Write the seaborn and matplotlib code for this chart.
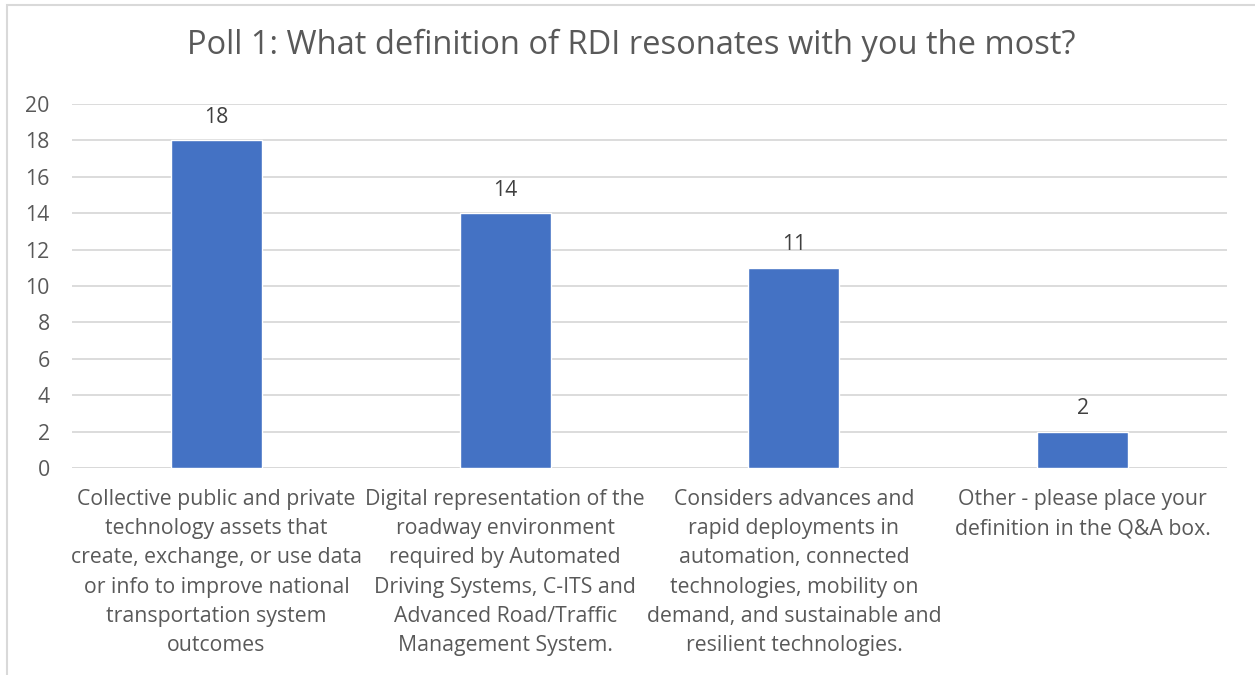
import matplotlib
matplotlib.use("Agg")
import matplotlib.pyplot as plt
import seaborn as sns
import pandas as pd
from matplotlib.patches import Rectangle

categories = [
    "Collective public and private\ntechnology assets that\ncreate, exchange, or use data\nor info to improve national\ntransportation system\noutcomes",
    "Digital representation of the\nroadway environment\nrequired by Automated\nDriving Systems, C-ITS and\nAdvanced Road/Traffic\nManagement System.",
    "Considers advances and\nrapid deployments in\nautomation, connected\ntechnologies, mobility on\ndemand, and sustainable and\nresilient technologies.",
    "Other - please place your\ndefinition in the Q&A box.",
]
votes = [18, 14, 11, 2]
yticks = [0, 2, 4, 6, 8, 10, 12, 14, 16, 18, 20]
title = "Poll 1: What definition of RDI resonates with you the most?"

sns.set_theme(style="white")
plt.rcParams['font.family'] = ['Open Sans', 'DejaVu Sans']

TXT = "#595959"
FS = 15.3
df = pd.DataFrame({"cat": categories, "votes": votes})

fig = plt.figure(figsize=(12.55, 6.75), dpi=100)
ax = fig.add_axes([72/1255, 1-468/675, (1227-72)/1255, (468-104)/675])

sns.barplot(data=df, x="cat", y="votes", color="#4472C4", width=0.315,
            saturation=1, ax=ax, zorder=3)
ax.set_ylim(0, 20)
ax.set_xlim(-0.5, 3.5)
ax.set_yticks(yticks)
ax.yaxis.grid(True, color="#D9D9D9", linewidth=1.3, zorder=0)
ax.set_axisbelow(True)
for s in ax.spines.values():
    s.set_visible(False)
ax.axhline(0, color="#D9D9D9", linewidth=1.3, zorder=1)
ax.set_xlabel("")
ax.set_ylabel("")
ax.tick_params(axis="y", length=0, pad=16, labelsize=FS, labelcolor=TXT)
ax.tick_params(axis="x", length=0, pad=15, labelsize=FS, labelcolor=TXT)
for lbl in ax.get_xticklabels():
    lbl.set_linespacing(1.52)
for c in ax.containers:
    ax.bar_label(c, labels=[str(v) for v in votes], padding=9,
                 fontsize=FS, color="#404040")

fig.text(631/1255, 1-45/675, title, ha="center", va="center",
         fontsize=23.5, color=TXT)

fig.patches.append(Rectangle((7/1255, -0.1), 1.2, 1-5/675+0.1,
                             transform=fig.transFigure, fill=False,
                             edgecolor="#D9D9D9", linewidth=1.5))

fig.savefig("out.png", dpi=100, facecolor="white")
